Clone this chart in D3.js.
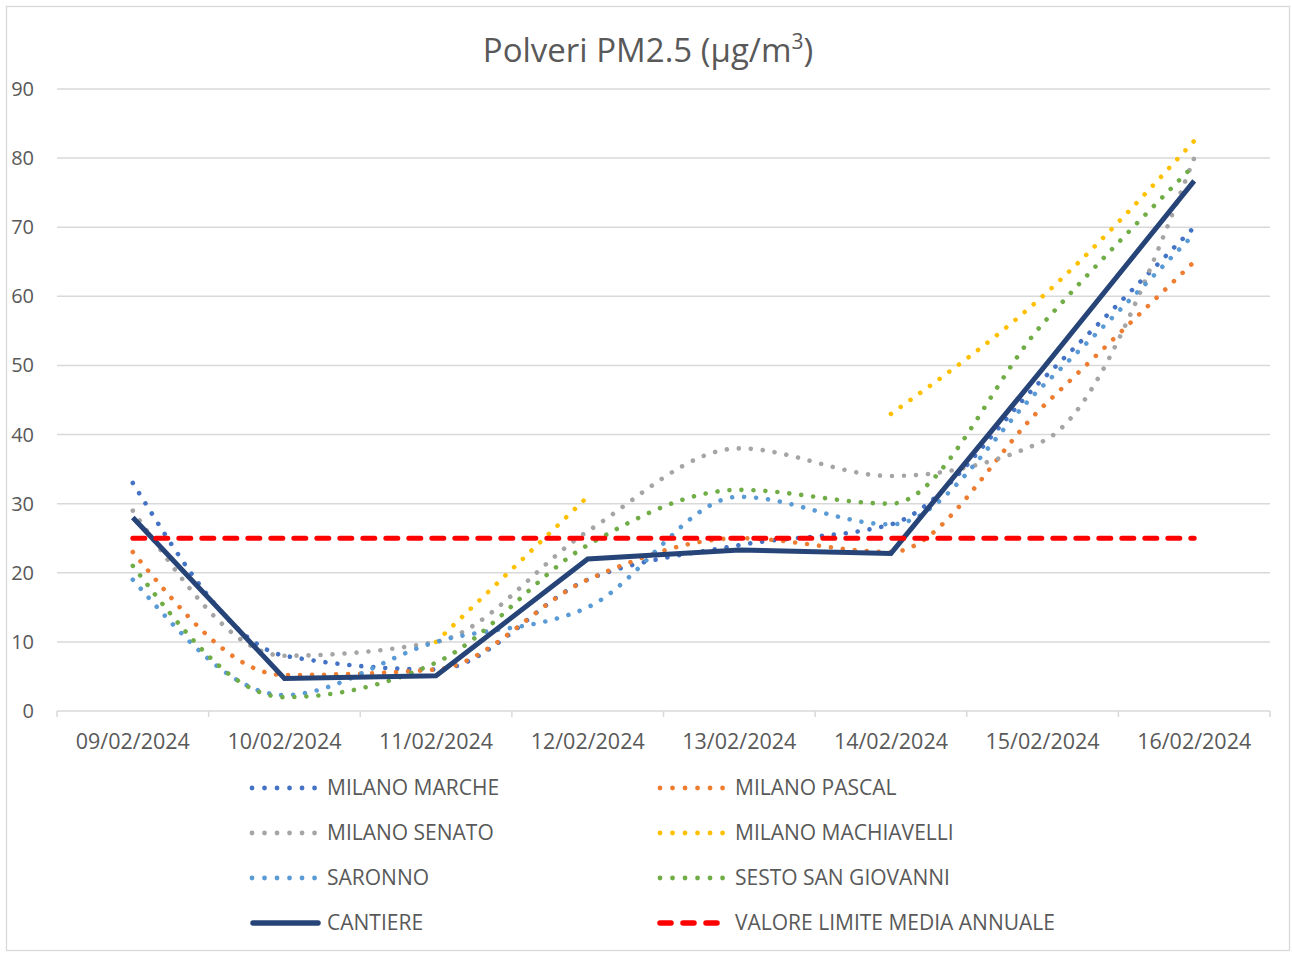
<html lang='it'>

<head>
    <title>
        Polveri PM2.5
    </title>
    <script src="https://d3js.org/d3.v7.min.js" charset="utf-8"></script>
    <style>
        body {
            margin: 0;
            background: #fff;
        }

        text {
            font-family: "Open Sans", sans-serif;
            fill: #595959;
        }
    </style>
</head>

<body>
    <script>
        // data
        var dates = ['09/02/2024', '10/02/2024', '11/02/2024', '12/02/2024', '13/02/2024', '14/02/2024', '15/02/2024', '16/02/2024'];
        var milanoMarche = [33, 8, 6, 19, 24, 27, 48, 70];
        var milanoPascal = [23, 5.2, 6, 19, 25, 23, 44, 65];
        var milanoSenato = [29, 8, 10, 26, 38, 34, 39, 80];
        var milanoMachiavelli = [null, null, 10, 31, null, 43, 60, 82.5];
        var saronno = [19, 2.3, 10, 15, 31, 27, 47, 69];
        var sestoSanGiovanni = [21, 2, 7, 24, 32, 30, 56, 79];
        var cantiere = [28, 4.7, 5.1, 22, 23.3, 22.8, 49.5, 76.7];
        var valoreLimite = [25, 25, 25, 25, 25, 25, 25, 25];
        var yTicks = [0, 10, 20, 30, 40, 50, 60, 70, 80, 90];

        var series = [
            { name: 'MILANO MARCHE', values: milanoMarche, color: '#4472C4', kind: 'dot' },
            { name: 'MILANO PASCAL', values: milanoPascal, color: '#ED7D31', kind: 'dot' },
            { name: 'MILANO SENATO', values: milanoSenato, color: '#A5A5A5', kind: 'dot' },
            { name: 'MILANO MACHIAVELLI', values: milanoMachiavelli, color: '#FFC000', kind: 'dot' },
            { name: 'SARONNO', values: saronno, color: '#5B9BD5', kind: 'dot' },
            { name: 'SESTO SAN GIOVANNI', values: sestoSanGiovanni, color: '#70AD47', kind: 'dot' },
            { name: 'CANTIERE', values: cantiere, color: '#264478', kind: 'solid' },
            { name: 'VALORE LIMITE MEDIA ANNUALE', values: valoreLimite, color: '#FF0000', kind: 'dash' }
        ];

        // canvas
        var width = 1292, height = 954;
        var svg = d3.select('body').append('svg')
            .attr('width', width).attr('height', height);

        svg.append('rect').attr('x', 6.5).attr('y', 6.5)
            .attr('width', 1283).attr('height', 944)
            .attr('fill', '#fff').attr('stroke', '#d9d9d9').attr('stroke-width', 1.3);

        // scales
        var x = d3.scaleBand().domain(dates).range([57, 1270]);
        var y = d3.scaleLinear().domain([0, 90]).range([711, 89]);
        var cx = function (d) { return x(d) + x.bandwidth() / 2; };

        // title
        var title = svg.append('text').attr('x', 648).attr('y', 62)
            .attr('text-anchor', 'middle').style('font-size', '33px')
            .text('Polveri PM2.5 (µg/m');
        title.append('tspan').attr('dy', -13).style('font-size', '21px').text('3');
        title.append('tspan').attr('dy', 13).text(')');

        // grid
        svg.append('g').selectAll('line').data(yTicks.slice(1)).enter()
            .append('line')
            .attr('x1', 57).attr('x2', 1270)
            .attr('y1', function (d) { return y(d); }).attr('y2', function (d) { return y(d); })
            .attr('stroke', '#d9d9d9').attr('stroke-width', 1.5);

        // y labels
        svg.append('g').selectAll('text').data(yTicks).enter()
            .append('text')
            .attr('x', 34).attr('y', function (d) { return y(d); })
            .attr('dy', '0.35em').attr('text-anchor', 'end')
            .style('font-size', '20px')
            .text(function (d) { return d; });

        // x axis
        var gx = svg.append('g').attr('transform', 'translate(0,711)');
        gx.append('line').attr('x1', 57).attr('x2', 1270).attr('stroke', '#d9d9d9').attr('stroke-width', 1.5);
        var bounds = dates.map(function (d) { return x(d); }).concat([1270]);
        gx.selectAll('.bound').data(bounds).enter()
            .append('line').attr('class', 'bound')
            .attr('x1', function (d) { return d; }).attr('x2', function (d) { return d; })
            .attr('y1', 0).attr('y2', 6)
            .attr('stroke', '#d9d9d9').attr('stroke-width', 1.5);
        svg.append('g').selectAll('text').data(dates).enter()
            .append('text')
            .attr('x', cx).attr('y', 749)
            .attr('text-anchor', 'middle').style('font-size', '21.5px')
            .text(function (d) { return d; });

        // lines
        var smooth = d3.line()
            .defined(function (d) { return d[1] !== null; })
            .x(function (d) { return cx(d[0]); })
            .y(function (d) { return y(d[1]); })
            .curve(d3.curveMonotoneX);
        var straight = d3.line()
            .x(function (d) { return cx(d[0]); })
            .y(function (d) { return y(d[1]); });

        series.forEach(function (s) {
            var pts = dates.map(function (d, i) { return [d, s.values[i]]; });
            var p = svg.append('path')
                .attr('fill', 'none')
                .attr('stroke', s.color);
            if (s.kind === 'dot') {
                p.attr('d', smooth(pts)).attr('stroke-width', 4.6)
                    .attr('stroke-linecap', 'round').attr('stroke-dasharray', '0.01 12');
            } else if (s.kind === 'solid') {
                p.attr('d', straight(pts)).attr('stroke-width', 5)
                    .attr('stroke-linejoin', 'miter');
            } else {
                p.attr('d', straight(pts)).attr('stroke-width', 5)
                    .attr('stroke-linecap', 'round').attr('stroke-dasharray', '12 11');
            }
        });

        // legend
        var legend = svg.append('g');
        series.forEach(function (s, i) {
            var col = i % 2, row = Math.floor(i / 2);
            var lx = col === 0 ? 252 : 660;
            var ly = 788 + row * 45;
            var ln = legend.append('line')
                .attr('x1', lx).attr('x2', lx + 64)
                .attr('y1', ly).attr('y2', ly)
                .attr('stroke', s.color).attr('stroke-linecap', 'round');
            if (s.kind === 'dot') {
                ln.attr('x2', lx + 64).attr('stroke-width', 4.8).attr('stroke-dasharray', '0.01 12.5');
            } else if (s.kind === 'solid') {
                ln.attr('x1', lx + 1).attr('x2', lx + 66).attr('stroke-width', 5.5);
            } else {
                ln.attr('x2', lx + 60).attr('stroke-width', 5.5).attr('stroke-dasharray', '11 12');
            }
            legend.append('text')
                .attr('x', col === 0 ? 327 : 735).attr('y', ly)
                .attr('dy', '0.35em').style('font-size', '21px')
                .text(s.name);
        });
    </script>
</body>

</html>
